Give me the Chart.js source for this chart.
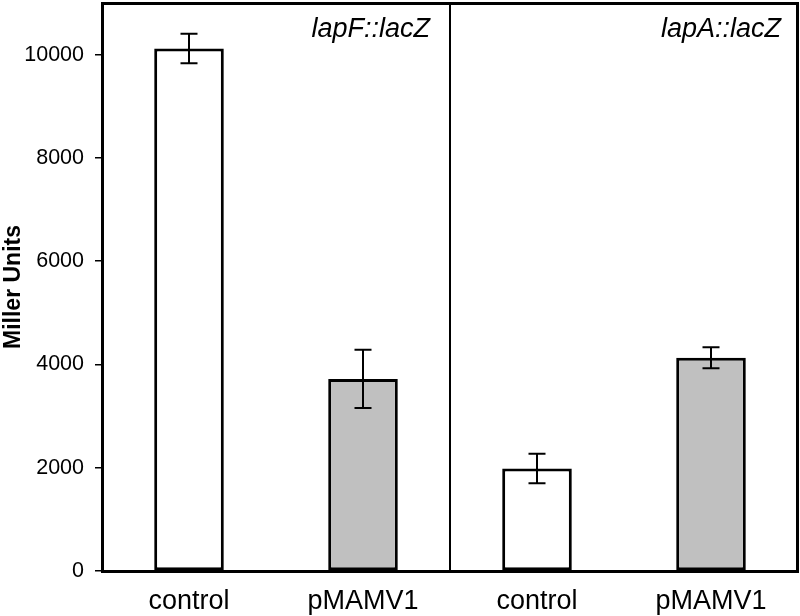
<!DOCTYPE html>
<html>
<head>
<meta charset="utf-8">
<script src="https://cdn.jsdelivr.net/npm/chart.js@4.4.1/dist/chart.umd.min.js"></script>
<style>
  html, body { margin: 0; padding: 0; background: #fff; }
  #wrap { width: 800px; height: 616px; position: relative; }
</style>
</head>
<body>
<div id="wrap"><canvas id="c" width="800" height="616"></canvas></div>
<script>
const categories = ['control', 'pMAMV1', 'control', 'pMAMV1'];
const values = [10120, 3720, 1985, 4130];
const errors = [285, 565, 285, 205];
const fills = ['#ffffff', '#c0c0c0', '#ffffff', '#c0c0c0'];
const panelLabels = ['lapF::lacZ', 'lapA::lacZ'];
const yTicks = [0, 2000, 4000, 6000, 8000, 10000];
const yMax = 11000;

const FONT = "'Liberation Sans', Arial, sans-serif";

const decor = {
  id: 'decor',
  afterDatasetsDraw(chart) {
    const ctx = chart.ctx;
    const ca = chart.chartArea;
    const y = chart.scales.y;
    const x = chart.scales.x;
    const meta = chart.getDatasetMeta(0);
    ctx.save();
    ctx.strokeStyle = '#000';
    ctx.lineWidth = 2;
    meta.data.forEach((bar, i) => {
      const cx = bar.x;
      const yt = y.getPixelForValue(values[i] + errors[i]);
      const yb = y.getPixelForValue(values[i] - errors[i]);
      const cap = 8.5;
      ctx.beginPath();
      ctx.moveTo(cx, yt); ctx.lineTo(cx, yb);
      ctx.moveTo(cx - cap, yt); ctx.lineTo(cx + cap, yt);
      ctx.moveTo(cx - cap, yb); ctx.lineTo(cx + cap, yb);
      ctx.stroke();
    });
    const xd = (x.getPixelForValue(1) + x.getPixelForValue(2)) / 2;
    ctx.lineWidth = 2;
    ctx.beginPath();
    ctx.moveTo(xd, ca.top); ctx.lineTo(xd, ca.bottom);
    ctx.stroke();
    ctx.lineWidth = 3;
    ctx.beginPath();
    ctx.moveTo(ca.left, ca.top + 0.5); ctx.lineTo(ca.right - 0.5, ca.top + 0.5);
    ctx.lineTo(ca.right - 0.5, ca.bottom);
    ctx.stroke();
    ctx.fillStyle = '#000';
    ctx.font = "italic 27px " + FONT;
    ctx.textAlign = 'right';
    ctx.textBaseline = 'alphabetic';
    ctx.fillText(panelLabels[0], xd - 20, 37);
    ctx.fillText(panelLabels[1], ca.right - 17, 37);
    ctx.restore();
  }
};

new Chart(document.getElementById('c'), {
  type: 'bar',
  data: {
    labels: categories,
    datasets: [{
      data: values,
      backgroundColor: fills,
      borderColor: '#000',
      borderWidth: 3,
      borderSkipped: false,
      barPercentage: 0.4,
      categoryPercentage: 1.0
    }]
  },
  options: {
    responsive: false,
    animation: false,
    devicePixelRatio: 1,
    layout: { padding: { top: 3, right: 2, left: 0, bottom: 0 } },
    plugins: { legend: { display: false }, tooltip: { enabled: false } },
    scales: {
      x: {
        grid: { display: false },
        border: { display: true, color: '#000', width: 3 },
        ticks: { color: '#000', font: { family: FONT, size: 27 }, padding: 6, maxRotation: 0 },
        afterFit(s) { s.height = 45; s.paddingLeft = 0; s.paddingRight = 0; }
      },
      y: {
        min: 0,
        max: yMax,
        afterBuildTicks(s) { s.ticks = yTicks.map(v => ({ value: v })); },
        grid: { drawOnChartArea: false, drawTicks: true, tickLength: 7, color: '#000', lineWidth: 1.5 },
        border: { display: true, color: '#000', width: 3 },
        ticks: { color: '#000', font: { family: FONT, size: 21.5 }, padding: 11, callback: v => String(v) },
        title: { display: true, text: 'Miller Units', color: '#000', font: { family: FONT, size: 23, weight: 'bold' }, padding: { top: 0, bottom: 0 } },
        afterFit(s) { s.width = 102; s.paddingTop = 0; s.paddingBottom = 0; }
      }
    }
  },
  plugins: [decor]
});
</script>
</body>
</html>
